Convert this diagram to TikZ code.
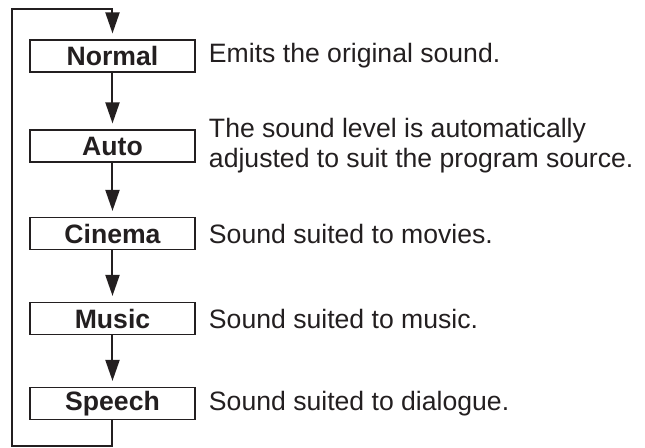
\documentclass[tikz,border=0pt]{standalone}
\usepackage{fontspec}
\setmainfont{Liberation Sans}
\usepackage{tikz}
\usetikzlibrary{arrows.meta, positioning}
\definecolor{tinta}{RGB}{35,31,32}

\begin{document}
\begin{tikzpicture}[x=0.5pt, y=-0.5pt, font=\fontsize{13.3}{15}\selectfont, color=tinta,
  modo/.style={draw, line width=0.6pt, minimum width=82.5pt, minimum height=16pt, inner sep=0pt, font=\fontsize{13.3}{15}\selectfont\bfseries},
  nota/.style={right=6.5pt of #1, inner sep=0pt, align=left},
  flecha/.style={line width=1pt, -{Triangle[length=10.5pt, width=7pt]}, shorten >=3pt}]

\useasboundingbox (0,0) rectangle (645,447);

% Modos de sonido
\node[modo] (normal) at (112.5,56) {Normal};
\node[modo] (auto) at (112.5,146) {Auto};
\node[modo] (cinema) at (112.5,233.5) {Cinema};
\node[modo] (music) at (112.5,318.5) {Music};
\node[modo] (speech) at (112.5,403.5) {Speech};

% Descripciones
\node[nota=normal] (tnormal) {Emits the original sound.};
\node[nota=auto] (tauto) {The sound level is automatically\\adjusted to suit the program source.};
\node[nota=cinema] (tcinema) {Sound suited to movies.};
\node[nota=music] (tmusic) {Sound suited to music.};
\node[nota=speech] (tspeech) {Sound suited to dialogue.};

% Secuencia
\draw[flecha] (normal) -- (auto);
\draw[flecha] (auto) -- (cinema);
\draw[flecha] (cinema) -- (music);
\draw[flecha] (music) -- (speech);

% Vuelta al inicio
\coordinate (abajo) at (12,446);
\coordinate (arriba) at (12,9);
\draw[flecha] (speech.south) |- (abajo) -- (arriba) -| (normal.north);

\end{tikzpicture}
\end{document}
